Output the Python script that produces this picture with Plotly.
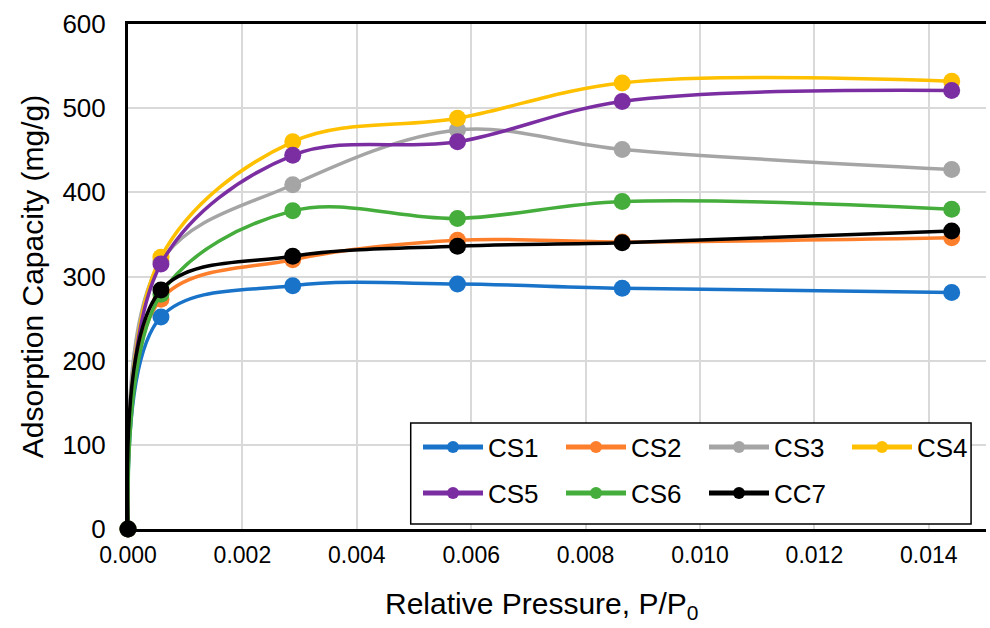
import plotly.graph_objects as go

# Relative pressure points (P/P0)
pressure = [0.0, 0.000576, 0.00288, 0.00576, 0.00864, 0.0144]

# Adsorption capacity (mg/g) for each sample
series_names = ["CS1", "CS2", "CS3", "CS4", "CS5", "CS6", "CC7"]
cs1 = [0, 252, 289, 291, 286, 281]
cs2 = [0, 273, 320, 343, 341, 346]
cs3 = [0, 318, 409, 474, 451, 427]
cs4 = [0, 323, 460, 488, 530, 532]
cs5 = [0, 315, 444, 460, 508, 521]
cs6 = [0, 279, 378, 369, 389, 380]
cc7 = [0, 284, 324, 336, 340, 354]
series_values = [cs1, cs2, cs3, cs4, cs5, cs6, cc7]
series_colors = ["#1873c9", "#fd7f2c", "#a5a5a5", "#ffc000", "#7b2ea1", "#45ad3b", "#000000"]
# two legend rows: first four samples on top, remaining three below
legend_rows = ["legend", "legend", "legend", "legend", "legend2", "legend2", "legend2"]

x_ticks = [0.000, 0.002, 0.004, 0.006, 0.008, 0.010, 0.012, 0.014]
y_ticks = [0, 100, 200, 300, 400, 500, 600]

fig = go.Figure()
for name, vals, col, lg in zip(series_names, series_values, series_colors, legend_rows):
    fig.add_trace(go.Scatter(
        x=pressure, y=vals, name=name, mode="lines+markers",
        line=dict(color=col, width=3.5, shape="spline", smoothing=1.0),
        marker=dict(color=col, size=17),
        cliponaxis=False, legend=lg,
    ))

font_family = "Liberation Sans, Arial, sans-serif"

legend_common = dict(
    orientation="h", xanchor="left", yanchor="middle",
    borderwidth=0, bgcolor="rgba(0,0,0,0)",
    font=dict(size=26), entrywidth=68, entrywidthmode="pixels",
    itemwidth=60, itemsizing="constant",
)

fig.update_layout(
    width=990, height=628,
    margin=dict(l=128, r=0, t=24, b=99),
    paper_bgcolor="white", plot_bgcolor="white",
    font=dict(family=font_family, size=24, color="#000000"),
    showlegend=True,
    legend=dict(x=0.338, y=0.1624, **legend_common),
    legend2=dict(x=0.338, y=0.0713, **legend_common),
    shapes=[dict(
        type="rect", xref="paper", yref="paper",
        x0=0.3295, x1=0.9826, y0=0.0099, y1=0.2099,
        line=dict(color="#000000", width=1.5), fillcolor="white", layer="above",
    )],
    annotations=[dict(
        text="Relative Pressure, P/P<sub>0</sub>", xref="paper", yref="paper",
        x=0.4814, y=-0.152, xanchor="center", yanchor="middle",
        showarrow=False, font=dict(size=30),
    )],
    xaxis=dict(
        range=[0, 0.015], tickvals=x_ticks, ticktext=[f"{v:.3f}" for v in x_ticks],
        tickfont=dict(size=23),
        showgrid=True, gridcolor="#d9d9d9", gridwidth=1.5,
        showline=True, linecolor="#000000", linewidth=2.5, mirror=True,
        ticks="", zeroline=False, ticklabelstandoff=4,
    ),
    yaxis=dict(
        range=[0, 600], tickvals=y_ticks, tickfont=dict(size=26),
        showgrid=True, gridcolor="#d9d9d9", gridwidth=1.5,
        showline=True, linecolor="#000000", linewidth=3,
        ticks="", zeroline=False, ticklabelstandoff=14,
        title=dict(text="Adsorption Capacity (mg/g)", standoff=10,
                   font=dict(size=30)),
    ),
)

fig.write_html("out.html")
